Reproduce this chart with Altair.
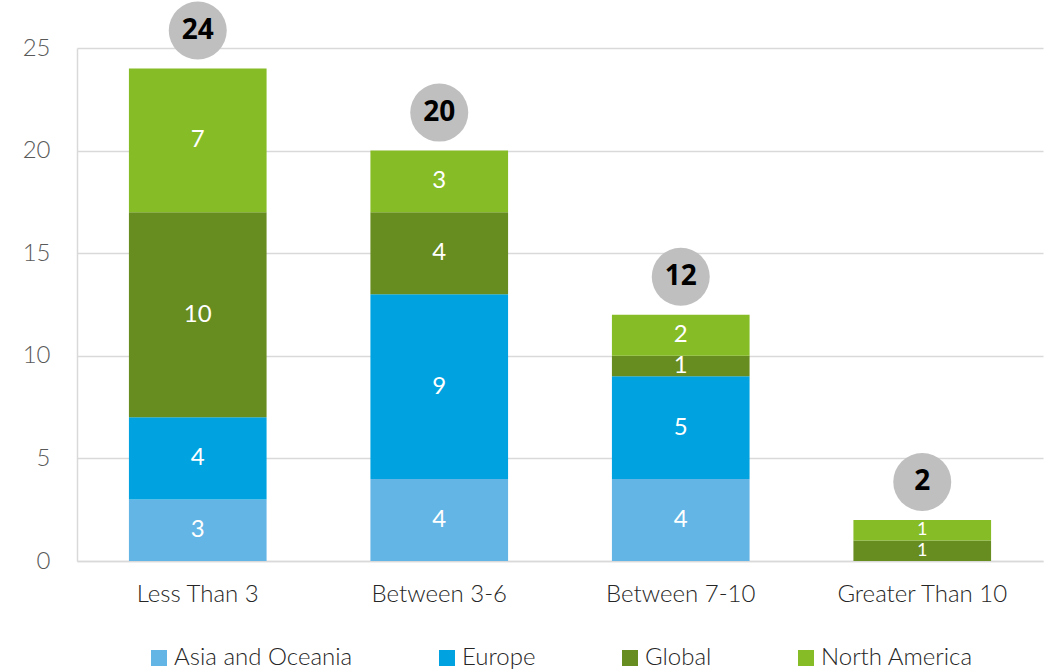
import altair as alt
import pandas as pd

categories = ["Less Than 3", "Between 3-6", "Between 7-10", "Greater Than 10"]
regions = ["Asia and Oceania", "Europe", "Global", "North America"]
asia_oceania = [3, 4, 4, 0]
europe = [4, 9, 5, 0]
global_ = [10, 4, 1, 1]
north_america = [7, 3, 2, 1]
colors = ["#62B5E5", "#00A3E0", "#678C1F", "#86BC25"]

rows = []
for region, values in zip(regions, [asia_oceania, europe, global_, north_america]):
    for cat, v in zip(categories, values):
        rows.append({"Category": cat, "Region": region, "Value": v})
df = pd.DataFrame(rows)

FONT = "Lato"
BOLD_FONT = "Open Sans"

y_scale = alt.Scale(domain=[0, 25], nice=False, zero=True)
x_sorted = alt.X("Category:N", sort=categories)

base = alt.Chart(df)

x_enc = alt.X("Category:N", sort=categories, title=None,
              scale=alt.Scale(paddingInner=0.43, paddingOuter=0.215),
              axis=alt.Axis(labelAngle=0, labelFontSize=24, labelColor="#262626",
                            labelFont=FONT, labelFontWeight=300, labelPadding=21,
                            ticks=False, domainColor="#d9d9d9", domainWidth=1.5))

bars = base.mark_bar().encode(
    x=x_enc,
    y=alt.Y("sum(Value):Q", title=None, scale=y_scale,
            axis=alt.Axis(values=[0, 5, 10, 15, 20, 25], labelFontSize=24,
                          labelColor="#595959", labelFont=FONT, labelFontWeight=300,
                          labelPadding=27, ticks=False, gridColor="#d9d9d9",
                          gridWidth=1.5, domainColor="#d9d9d9", domainWidth=1.5)),
    color=alt.Color("Region:N", sort=regions,
                    scale=alt.Scale(domain=regions, range=colors),
                    legend=alt.Legend(title=None, orient="none", direction="horizontal",
                                      legendX=70, legendY=598, symbolType="square",
                                      symbolSize=256, symbolStrokeWidth=0,
                                      labelFontSize=24, labelFont=FONT,
                                      labelFontWeight=300, labelLimit=400,
                                      labelColor="#262626", columnPadding=82,
                                      labelOffset=3)),
    order=alt.Order("Region:N", sort="ascending"),
)

seg_labels = base.transform_filter("datum.Value > 0").transform_stack(
    stack="Value", groupby=["Category"], as_=["y0", "y1"],
    sort=[alt.SortField("Region", order="ascending")]
).transform_calculate(mid="(datum.y0 + datum.y1) / 2").mark_text(
    color="white", font=FONT, fontWeight=400, baseline="middle"
).encode(
    x=x_sorted,
    y=alt.Y("mid:Q", scale=y_scale),
    text=alt.Text("Value:Q"),
    size=alt.condition("datum.Category == 'Greater Than 10'", alt.value(18), alt.value(24)),
)

totals = base.transform_aggregate(total="sum(Value)", groupby=["Category"])

circles = totals.mark_point(filled=True, shape="circle", color="#bfbfbf",
                            opacity=1, size=3364, yOffset=-38).encode(
    x=x_sorted,
    y=alt.Y("total:Q", scale=y_scale),
)

total_text = totals.mark_text(fontSize=28, fontWeight="bold", color="black",
                              font=BOLD_FONT, baseline="middle", yOffset=-38).encode(
    x=x_sorted,
    y=alt.Y("total:Q", scale=y_scale),
    text=alt.Text("total:Q"),
)

chart = alt.layer(bars, seg_labels, circles, total_text).properties(
    width=966, height=513,
    background="white",
    autosize=alt.AutoSizeParams(type="none"),
    padding={"left": 77, "top": 48, "right": 16, "bottom": 111},
).configure_view(stroke=None)

chart.save("out.html", embed_options={"renderer": "svg", "actions": False})
